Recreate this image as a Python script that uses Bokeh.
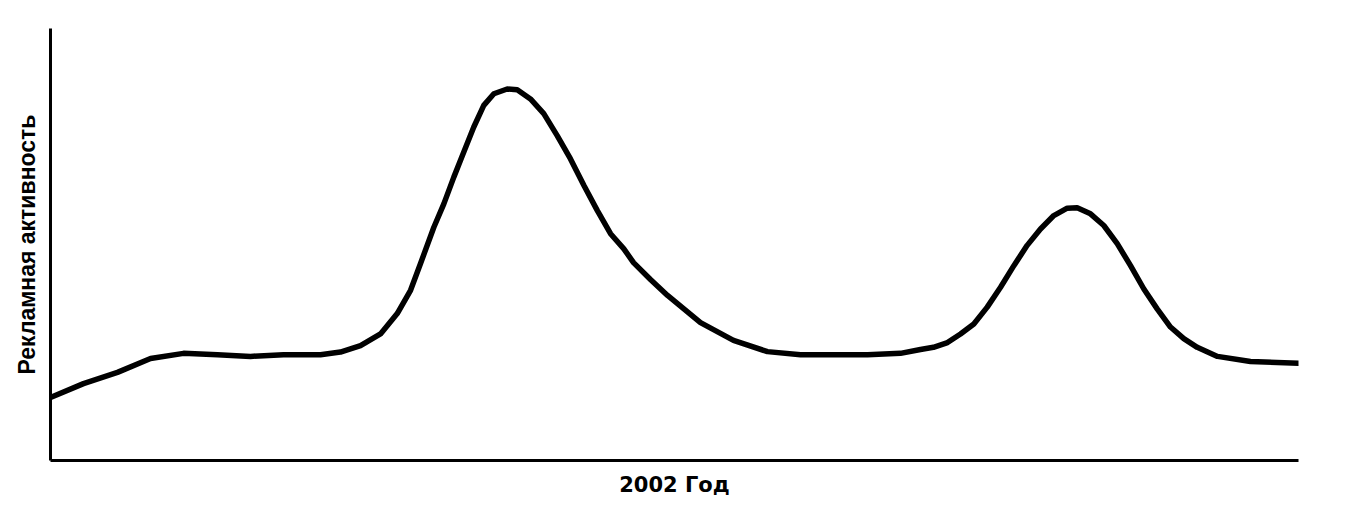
from bokeh.plotting import figure
from bokeh.models import Range1d, FixedTicker
from bokeh.embed import file_html
from bokeh.resources import INLINE

# Time of year 2002, in months (0 = start of January, 12 = end of December)
months = [0.000, 0.317, 0.644, 0.962, 1.279, 1.606, 1.923, 2.240, 2.596, 2.788,
          2.981, 3.173, 3.334, 3.462, 3.558, 3.686, 3.782, 3.878, 3.974, 4.070,
          4.166, 4.263, 4.391, 4.488, 4.615, 4.743, 4.872, 5.000, 5.128, 5.257,
          5.385, 5.513, 5.606, 5.769, 5.933, 6.250, 6.567, 6.894, 7.212, 7.529,
          7.856, 8.173, 8.365, 8.490, 8.625, 8.750, 8.878, 9.007, 9.135, 9.263,
          9.391, 9.519, 9.647, 9.776, 9.872, 10.000, 10.128, 10.257, 10.385, 10.513,
          10.641, 10.769, 10.897, 11.026, 11.221, 11.538, 12.000]
# Advertising activity (relative units, 0-100)
activity = [14.6, 17.8, 20.4, 23.6, 24.8, 24.5, 24.1, 24.5, 24.5, 25.1,
            26.6, 29.3, 34.0, 39.4, 45.6, 54.0, 59.4, 65.6, 71.4, 77.2,
            82.2, 84.9, 86.0, 85.8, 83.7, 80.3, 75.2, 69.8, 63.7, 57.9,
            52.5, 49.0, 45.8, 41.9, 38.2, 31.9, 27.8, 25.2, 24.5, 24.5,
            24.5, 24.8, 25.7, 26.2, 27.3, 29.3, 31.6, 35.5, 40.1, 45.1,
            49.8, 53.6, 56.7, 58.4, 58.5, 57.1, 54.4, 50.2, 45.1, 39.7,
            35.1, 30.9, 28.2, 26.2, 24.1, 22.9, 22.5]

x_title = "2002 Год"
y_title = "Рекламная активность"

p = figure(width=1332, height=498, frame_width=1248, frame_height=432,
           output_backend="svg", toolbar_location=None,
           x_range=Range1d(0, 12), y_range=Range1d(0, 100),
           min_border_left=50, min_border_top=28, min_border_right=34,
           min_border_bottom=38)

p.line(months, activity, line_color="black", line_width=5.5,
       line_join="round", line_cap="round")

p.outline_line_color = None
p.grid.visible = False
p.background_fill_color = "white"
p.border_fill_color = "white"

for ax in (p.xaxis[0], p.yaxis[0]):
    ax.ticker = FixedTicker(ticks=[])
    ax.axis_line_color = "black"
    ax.axis_line_width = 3
    ax.major_tick_line_color = None
    ax.minor_tick_line_color = None
    ax.major_tick_in = 0
    ax.major_tick_out = 0
    ax.minor_tick_in = 0
    ax.minor_tick_out = 0
    ax.major_label_standoff = 0
    ax.axis_label_text_font_style = "bold"
    ax.axis_label_text_color = "black"

p.xaxis.axis_label = x_title
p.xaxis.axis_label_text_font = "DejaVu Sans"
p.xaxis.axis_label_text_font_size = "21px"
p.xaxis.axis_label_standoff = 12
p.yaxis.axis_label = y_title
p.yaxis.axis_label_text_font = "Liberation Sans"
p.yaxis.axis_label_text_font_size = "23px"
p.yaxis.axis_label_standoff = 11

open("out.html", "w").write(file_html(p, INLINE))
